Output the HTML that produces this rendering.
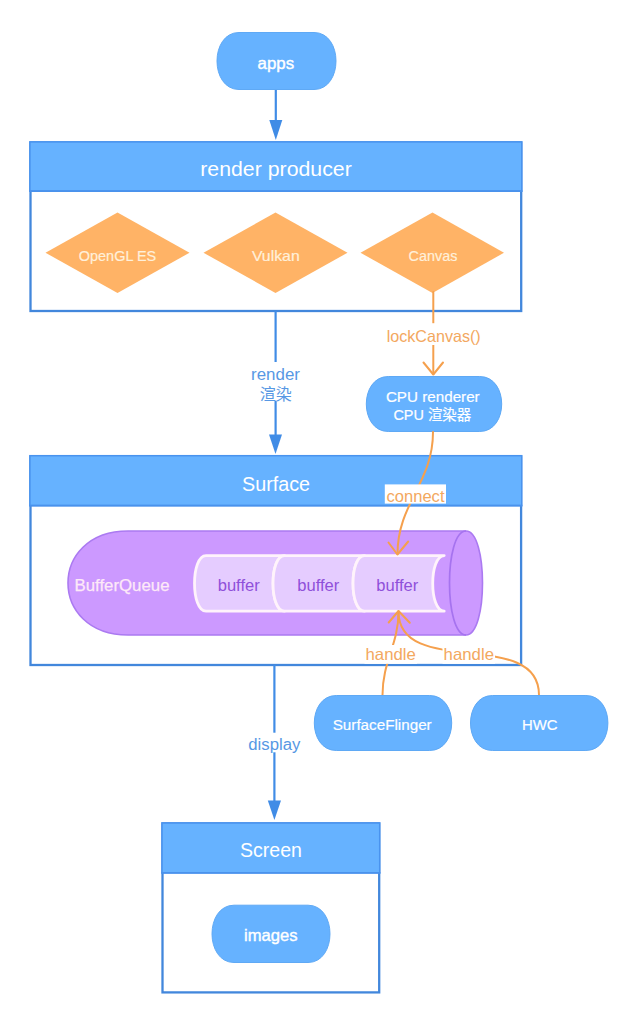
<!DOCTYPE html>
<html lang="zh">
<head>
<meta charset="utf-8">
<title>Android render pipeline</title>
<style>
html,body{margin:0;padding:0;background:#fff;}
body{width:640px;height:1023px;overflow:hidden;position:relative;}
svg{display:block;position:absolute;left:0;top:0;}
text{font-family:"Liberation Sans","Noto Sans CJK SC",sans-serif;text-anchor:middle;}
.w{fill:#ffffff;}
.h{fill:#ffffff;font-size:20.5px;}
.n{font-size:15.5px;stroke:#ffffff;stroke-width:0.2px;}
.nb{font-size:16.5px;stroke:#ffffff;stroke-width:0.4px;}
.d{fill:#fff0da;font-size:15px;stroke:#fff0da;stroke-width:0.2px;}
.b{fill:#5798e4;font-size:16px;}
.o{fill:#f3a860;font-size:16.5px;}
.p{fill:#8f50da;font-size:16px;}
.bl{stroke:#408ce6;stroke-width:2.2;fill:none;}
.ol{stroke:#f5a04d;stroke-width:2;fill:none;stroke-linecap:round;stroke-linejoin:round;}
.box{fill:#ffffff;stroke:#4287dc;stroke-width:2.3;}
.hd{fill:#66b2ff;stroke:#4993ee;stroke-width:1.5;}
.hl{stroke:#4a92ec;stroke-width:1.9;fill:none;}
.rb{fill:#66b2ff;stroke:#5fa9f5;stroke-width:1;}
.dm{fill:#ffb366;}
.ah{fill:#408ce6;}
</style>
</head>
<body>
<svg width="640" height="1023" viewBox="0 0 640 1023">
<rect x="0" y="0" width="640" height="1023" fill="#ffffff"/>

<!-- apps -->
<path class="rb" d="M239 32.5 L314 32.5 C343.33 32.5 343.33 89.5 314 89.5 L239 89.5 C209.67 89.5 209.67 32.5 239 32.5 Z"/>
<text class="w nb" x="275.8" y="68.7" textLength="36.5" lengthAdjust="spacingAndGlyphs">apps</text>
<line class="bl" x1="275.8" y1="90" x2="275.8" y2="122"/>
<path class="ah" d="M269.3 120 L282.3 120 L275.8 140 Z"/>

<!-- render producer -->
<rect class="box" x="30.5" y="142.5" width="490.7" height="168.5"/>
<rect class="hd" x="29.9" y="141.9" width="491.9" height="49.2"/>
<line class="hl" x1="29.3" y1="191.1" x2="522.4" y2="191.1"/>
<text class="h" x="276" y="176.3" textLength="151.5" lengthAdjust="spacingAndGlyphs">render producer</text>

<path class="dm" d="M45.5 252.75 L117.5 212.5 L189.5 252.75 L117.5 293 Z"/>
<path class="dm" d="M203.5 252.75 L275.5 212.5 L347.5 252.75 L275.5 293 Z"/>
<path class="dm" d="M360.5 252.75 L432.5 212.5 L504 252.75 L432.5 293 Z"/>
<text class="d" x="117.5" y="261" textLength="77.5" lengthAdjust="spacingAndGlyphs">OpenGL ES</text>
<text class="d" x="275.8" y="261" textLength="47.8" lengthAdjust="spacingAndGlyphs">Vulkan</text>
<text class="d" x="433" y="261" textLength="48.8" lengthAdjust="spacingAndGlyphs">Canvas</text>

<!-- render arrow -->
<line class="bl" x1="275.6" y1="311" x2="275.6" y2="436"/>
<path class="ah" d="M269 434.5 L282 434.5 L275.5 454 Z"/>
<rect x="250" y="362" width="51" height="38.8" fill="#ffffff"/>
<text class="b" x="275.5" y="380.2" textLength="48.8" lengthAdjust="spacingAndGlyphs">render</text>
<text class="b" x="275.7" y="400" style="font-size:16px">渲染</text>

<!-- lockCanvas arrow -->
<line class="ol" x1="433.3" y1="292" x2="433.3" y2="374"/>
<path class="ol" d="M423.5 362.5 L433.3 374.5 L443 362.5"/>
<rect x="385.5" y="323.2" width="96.5" height="21.8" fill="#ffffff"/>
<text class="o" x="433.7" y="342" textLength="94" lengthAdjust="spacingAndGlyphs">lockCanvas()</text>

<!-- CPU renderer -->
<path class="rb" d="M388.3 376.5 L479.7 376.5 C509.03 376.5 509.03 431.5 479.7 431.5 L388.3 431.5 C358.97 431.5 358.97 376.5 388.3 376.5 Z"/>
<text class="w n" x="432.8" y="402.3" textLength="93.8" lengthAdjust="spacingAndGlyphs">CPU renderer</text>
<text class="w n" x="432.3" y="420.4" textLength="77.8" lengthAdjust="spacingAndGlyphs" style="font-size:14.5px">CPU 渲染器</text>

<!-- Surface -->
<rect class="box" x="30.5" y="456.5" width="490.6" height="208.5"/>
<rect class="hd" x="29.9" y="455.7" width="491.8" height="49.9"/>
<line class="hl" x1="29.3" y1="505.6" x2="522.3" y2="505.6"/>
<text class="h" x="276" y="490.5" textLength="68" lengthAdjust="spacingAndGlyphs">Surface</text>

<!-- BufferQueue cylinder -->
<path d="M128 531 L466 531 C488 531 488 635 466 635 L128 635 C48 635 48 531 128 531 Z" fill="#cc99ff" stroke="#ab7af1" stroke-width="1.6"/>
<path d="M466 531 C444 531 444 635 466 635" fill="none" stroke="#a673ef" stroke-width="1.7"/>
<text x="122" y="590.5" textLength="95" lengthAdjust="spacingAndGlyphs" style="font-size:16.5px;fill:#fee9f8;stroke:#fee9f8;stroke-width:0.25px">BufferQueue</text>

<g fill="#e5ccff" stroke="#fff3fb" stroke-width="2.8" stroke-linejoin="round">
<path d="M206 555.6 L284.5 555.6 C269.2 555.6 269.2 611.2 284.5 611.2 L206 611.2 C190.7 611.2 190.7 555.6 206 555.6 Z"/>
<path d="M284.5 555.6 L364.5 555.6 C349.2 555.6 349.2 611.2 364.5 611.2 L284.5 611.2 C269.2 611.2 269.2 555.6 284.5 555.6 Z"/>
<path d="M364.5 555.6 L444.2 555.6 C428.9 555.6 428.9 611.2 444.2 611.2 L364.5 611.2 C349.2 611.2 349.2 555.6 364.5 555.6 Z"/>
</g>
<text class="p" x="238.7" y="590.5" textLength="42" lengthAdjust="spacingAndGlyphs">buffer</text>
<text class="p" x="318.3" y="590.5" textLength="42" lengthAdjust="spacingAndGlyphs">buffer</text>
<text class="p" x="397.3" y="590.5" textLength="42" lengthAdjust="spacingAndGlyphs">buffer</text>

<!-- connect arrow -->
<path class="ol" d="M433 432 C 433 483, 397.5 503, 397.5 554"/>
<path class="ol" d="M388.5 542.5 L397.4 554.5 L408.2 541.5"/>
<rect x="384.8" y="484.4" width="61.2" height="19.2" fill="#ffffff"/>
<text class="o" x="415.5" y="501.8" textLength="58" lengthAdjust="spacingAndGlyphs">connect</text>

<!-- handle arrows -->
<path class="ol" d="M382.5 695 C 382.5 661, 398.5 645, 398.5 611.5"/>
<path class="ol" d="M539 695 C 539 627, 398.5 679, 398.5 611.5"/>
<path class="ol" d="M388.7 622.5 L398.5 611 L409.8 622.8"/>
<rect x="364.5" y="645" width="52.5" height="18.8" fill="#ffffff"/>
<rect x="442.5" y="645" width="52.5" height="18.8" fill="#ffffff"/>
<text class="o" x="390.7" y="660" textLength="50.4" lengthAdjust="spacingAndGlyphs">handle</text>
<text class="o" x="468.8" y="660" textLength="50.4" lengthAdjust="spacingAndGlyphs">handle</text>

<!-- SurfaceFlinger / HWC -->
<path class="rb" d="M336.3 695.5 L429.7 695.5 C459.03 695.5 459.03 750.5 429.7 750.5 L336.3 750.5 C306.97 750.5 306.97 695.5 336.3 695.5 Z"/>
<text class="w n" x="382.2" y="730.3" textLength="99" lengthAdjust="spacingAndGlyphs">SurfaceFlinger</text>
<path class="rb" d="M492.5 695.5 L585.9 695.5 C615.23 695.5 615.23 750.5 585.9 750.5 L492.5 750.5 C463.17 750.5 463.17 695.5 492.5 695.5 Z"/>
<text class="w n" x="539.7" y="730.2" textLength="35.6" lengthAdjust="spacingAndGlyphs">HWC</text>

<!-- display arrow -->
<line class="bl" x1="274.4" y1="665" x2="274.4" y2="802"/>
<path class="ah" d="M267.8 800.5 L281 800.5 L274.4 820 Z"/>
<rect x="247" y="732.7" width="55" height="19.6" fill="#ffffff"/>
<text class="b" x="274.3" y="749.5" textLength="52" lengthAdjust="spacingAndGlyphs">display</text>

<!-- Screen -->
<rect class="box" x="162.5" y="823.4" width="216.7" height="169"/>
<rect class="hd" x="162" y="823" width="217.7" height="49.8"/>
<line class="hl" x1="161.3" y1="872.9" x2="380.4" y2="872.9"/>
<text class="h" x="271" y="857" textLength="62" lengthAdjust="spacingAndGlyphs">Screen</text>
<path class="rb" d="M234 905.2 L308 905.2 C337.33 905.2 337.33 962.5 308 962.5 L234 962.5 C204.67 962.5 204.67 905.2 234 905.2 Z"/>
<text class="w nb" x="270.8" y="941" textLength="53.5" lengthAdjust="spacingAndGlyphs">images</text>
</svg>
</body>
</html>
